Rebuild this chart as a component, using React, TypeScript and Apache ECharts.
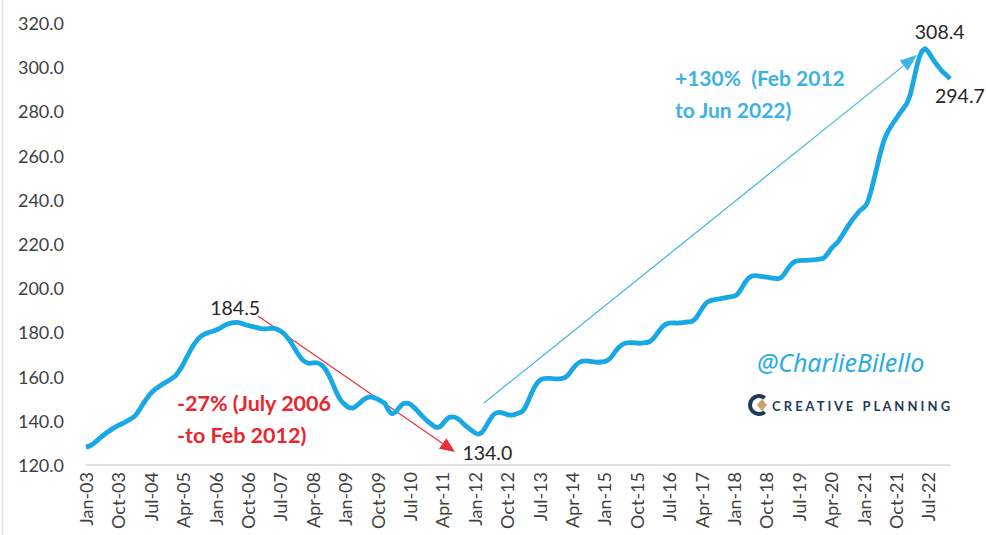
import React, { useEffect, useRef } from "react";
import * as echarts from "echarts";

const monthNames = ["Jan", "Feb", "Mar", "Apr", "May", "Jun", "Jul", "Aug", "Sep", "Oct", "Nov", "Dec"];

const v2003 = [128.1, 128.6, 129.6, 131.0, 132.4, 133.7, 134.9, 136.0, 137.0, 137.9, 138.7, 139.5];
const v2004 = [140.4, 141.4, 143.0, 145.4, 148.0, 150.4, 152.4, 154.0, 155.2, 156.3, 157.3, 158.2];
const v2005 = [159.3, 160.7, 162.9, 165.6, 168.8, 171.9, 174.6, 176.8, 178.3, 179.3, 179.9, 180.4];
const v2006 = [181.0, 181.7, 182.7, 183.6, 184.1, 184.4, 184.5, 184.2, 183.6, 183.1, 182.7, 182.4];
const v2007 = [181.9, 181.6, 181.6, 181.8, 181.8, 181.4, 180.6, 179.4, 177.6, 175.3, 172.6, 170.0];
const v2008 = [167.8, 166.6, 166.0, 166.2, 166.3, 165.7, 164.4, 162.0, 158.8, 155.0, 151.4, 148.8];
const v2009 = [147.2, 146.0, 145.8, 146.6, 148.0, 149.4, 150.4, 150.8, 150.5, 149.8, 148.9, 147.8];
const v2010 = [144.8, 143.2, 144.0, 146.0, 147.6, 148.0, 147.5, 146.2, 144.6, 142.8, 141.2, 139.6];
const v2011 = [138.4, 137.2, 137.0, 138.4, 140.4, 141.6, 141.8, 141.2, 140.0, 138.4, 137.0, 135.8];
const v2012 = [134.6, 134.0, 134.8, 137.2, 140.0, 142.4, 143.6, 143.8, 143.4, 142.8, 142.6, 142.8];
const v2013 = [143.4, 144.0, 146.0, 149.6, 153.4, 156.4, 158.2, 159.0, 159.2, 159.2, 159.0, 159.0];
const v2014 = [159.1, 159.5, 160.9, 163.1, 165.1, 166.4, 167.0, 167.1, 166.9, 166.7, 166.5, 166.6];
const v2015 = [166.8, 167.5, 169.0, 171.3, 173.2, 174.5, 175.2, 175.4, 175.3, 175.2, 175.1, 175.3];
const v2016 = [175.5, 176.3, 178.0, 180.3, 182.3, 183.6, 184.2, 184.3, 184.2, 184.3, 184.5, 184.7];
const v2017 = [184.8, 185.7, 187.8, 190.5, 192.8, 194.0, 194.6, 194.9, 195.2, 195.5, 195.8, 196.1];
const v2018 = [196.4, 197.4, 199.7, 202.4, 204.5, 205.5, 205.7, 205.5, 205.2, 205.0, 204.7, 204.5];
const v2019 = [204.3, 204.7, 206.5, 209.0, 211.0, 212.1, 212.5, 212.6, 212.6, 212.7, 212.8, 213.0];
const v2020 = [213.2, 213.8, 215.6, 217.9, 219.6, 221.2, 223.8, 226.4, 228.9, 231.2, 233.2, 235.2];
const v2021 = [236.4, 238.6, 243.6, 250.0, 256.8, 263.2, 268.2, 271.6, 274.2, 276.6, 279.0, 281.2];
const v2022 = [283.6, 287.8, 294.8, 301.8, 306.6, 308.4, 306.9, 304.2, 301.9, 299.8, 297.9, 296.4];
const v2023 = [294.7];

const values = [
  ...v2003, ...v2004, ...v2005, ...v2006, ...v2007, ...v2008, ...v2009,
  ...v2010, ...v2011, ...v2012, ...v2013, ...v2014, ...v2015, ...v2016,
  ...v2017, ...v2018, ...v2019, ...v2020, ...v2021, ...v2022, ...v2023,
];

const categories: string[] = [];
for (let y = 2003; categories.length < values.length; y++) {
  for (let m = 0; m < 12 && categories.length < values.length; m++) {
    categories.push(monthNames[m] + "-" + String(y % 100).padStart(2, "0"));
  }
}

const yTicks = { min: 120, max: 320, interval: 20 };

const annotationLabels = [
  { cat: "Jul-06", text: "184.5", dx: -27, dy: -15 },
  { cat: "Feb-12", text: "134.0", dx: -16, dy: 18 },
  { cat: "Jun-22", text: "308.4", dx: -10, dy: -17 },
  { cat: "Jan-23", text: "294.7", dx: -15, dy: 17 },
];

function arrow(x1: number, y1: number, x2: number, y2: number, color: string, lw: number, hl: number, hw: number) {
  const ang = Math.atan2(y2 - y1, x2 - x1);
  const bx = x2 - hl * Math.cos(ang);
  const by = y2 - hl * Math.sin(ang);
  const px = -Math.sin(ang) * hw / 2;
  const py = Math.cos(ang) * hw / 2;
  return [
    { type: "line", shape: { x1, y1, x2: bx, y2: by }, style: { stroke: color, lineWidth: lw }, silent: true },
    {
      type: "polygon",
      shape: { points: [[x2, y2], [bx + px, by + py], [bx - px, by - py]] },
      style: { fill: color },
      silent: true,
    },
  ];
}

export default function App() {
  const ref = useRef<HTMLDivElement>(null);
  useEffect(() => {
    document.body.style.margin = "0";
    const chart = echarts.init(ref.current!, undefined, { renderer: "svg" });
    const font = "Lato, 'Open Sans', sans-serif";
    chart.setOption({
      animation: false,
      backgroundColor: "#ffffff",
      grid: { left: 86, right: 36, top: 23, bottom: 70, containLabel: false },
      xAxis: {
        type: "category",
        data: categories,
        boundaryGap: false,
        axisLine: { lineStyle: { color: "#d9d9d9", width: 1.5 } },
        axisTick: { show: false },
        axisLabel: {
          interval: 8,
          rotate: 90,
          margin: 7,
          color: "#404040",
          fontSize: 18,
          fontFamily: font,
        },
        splitLine: { show: false },
      },
      yAxis: {
        type: "value",
        min: yTicks.min,
        max: yTicks.max,
        interval: yTicks.interval,
        axisLine: { show: false },
        axisTick: { show: false },
        splitLine: { show: false },
        axisLabel: {
          formatter: (v: number) => v.toFixed(1),
          color: "#404040",
          fontSize: 18,
          fontFamily: font,
          margin: 22,
        },
      },
      series: [
        {
          type: "line",
          data: values,
          showSymbol: false,
          smooth: 0.15,
          lineStyle: { color: "#19a8e6", width: 4.8 },
          z: 3,
        },
      ],
    });

    const labelEls = annotationLabels.map((a) => {
      const idx = categories.indexOf(a.cat);
      const p = chart.convertToPixel({ gridIndex: 0 }, [idx, values[idx]]) as number[];
      return {
        type: "text",
        x: p[0] + a.dx,
        y: p[1] + a.dy,
        style: {
          text: a.text,
          fontSize: 19.5,
          fontFamily: font,
          fill: "#262626",
          align: "left",
          verticalAlign: "middle",
        },
        z: 10,
      };
    });

    const graphics: any[] = [
      { type: "line", shape: { x1: 2.5, y1: 0, x2: 2.5, y2: 535 }, style: { stroke: "#dfe5ec", lineWidth: 1.5 }, silent: true },
      ...labelEls,
      ...arrow(258, 316, 455, 452, "#e8323a", 1.2, 15, 13),
      ...arrow(484, 403, 917, 55, "#3fb4e6", 1.2, 17, 13),
      {
        type: "text", x: 177, y: 403,
        style: { text: "-27% (July 2006", fontSize: 21.5, fontWeight: "bold", fontFamily: font, fill: "#e8262d", align: "left", verticalAlign: "middle" },
      },
      {
        type: "text", x: 177, y: 435,
        style: { text: "-to Feb 2012)", fontSize: 21.5, fontWeight: "bold", fontFamily: font, fill: "#e8262d", align: "left", verticalAlign: "middle" },
      },
      {
        type: "text", x: 675, y: 77,
        style: { text: "+130%  (Feb 2012", fontSize: 21, fontWeight: "bold", fontFamily: font, fill: "#3db2e4", align: "left", verticalAlign: "middle" },
      },
      {
        type: "text", x: 675, y: 109,
        style: { text: "to Jun 2022)", fontSize: 21, fontWeight: "bold", fontFamily: font, fill: "#3db2e4", align: "left", verticalAlign: "middle" },
      },
      {
        type: "text", x: 757, y: 362,
        style: { text: "@CharlieBilello", fontSize: 25, fontStyle: "italic", fontFamily: "'Noto Sans', sans-serif", fill: "#2aace3", align: "left", verticalAlign: "middle" },
      },
      {
        type: "arc", shape: { cx: 759, cy: 405, r: 9, startAngle: Math.PI * 0.28, endAngle: Math.PI * 1.72, clockwise: true },
        style: { stroke: "#1f3b58", lineWidth: 4, fill: null }, silent: true,
      },
      {
        type: "polygon", shape: { points: [[762, 399], [767, 405], [762, 411], [757, 405]] },
        style: { fill: "#c9a36a" }, silent: true,
      },
      {
        type: "text", x: 772, y: 406,
        style: { text: "C R E A T I V E   P L A N N I N G", fontSize: 13, fontWeight: "bold", fontFamily: font, fill: "#1f3b58", align: "left", verticalAlign: "middle" },
      },
    ];
    chart.setOption({ graphic: graphics });
    return () => chart.dispose();
  }, []);
  return <div ref={ref} style={{ position: "fixed", left: 0, top: 0, width: 986, height: 535 }} />;
}
